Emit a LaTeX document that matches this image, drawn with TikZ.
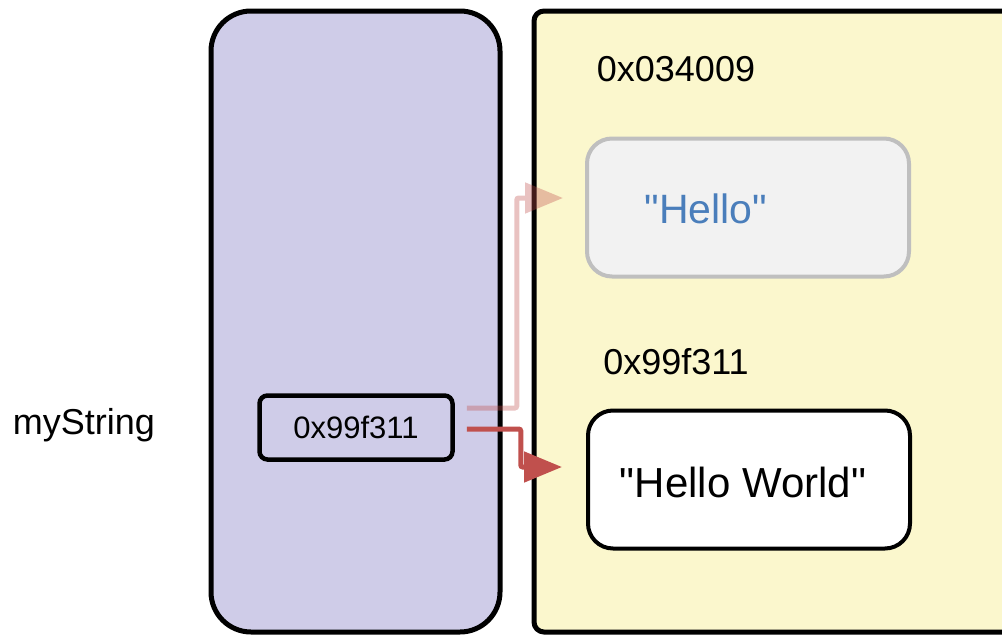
\documentclass[tikz,border=0pt]{standalone}
\usepackage{fontspec}
\setmainfont{Liberation Sans}[Ligatures=TeXOff]
\usetikzlibrary{arrows.meta}
\definecolor{stackfill}{RGB}{207,204,232}
\definecolor{heapfill}{RGB}{251,247,205}
\definecolor{oldfill}{RGB}{242,242,242}
\definecolor{oldline}{RGB}{191,191,191}
\definecolor{oldtext}{RGB}{74,126,187}
\definecolor{arrowred}{RGB}{192,80,77}
\begin{document}
\begin{tikzpicture}[x=1pt,y=-1pt,
  panel/.style={draw=black,line width=5pt},
  valbox/.style={draw,line width=4pt,rounded corners=25pt,minimum width=322pt,minimum height=138pt,inner sep=0pt},
  lbl/.style={font=\fontsize{36}{40}\selectfont,inner sep=0pt},
  ptr/.style={line width=5pt,arrowred,-{Triangle[length=38pt,width=30pt]}}
]
\useasboundingbox (0,0) rectangle (1002,635);
% panels
\draw[panel,fill=stackfill,rounded corners=40pt] (211,11) rectangle (500,632);
\draw[panel,fill=heapfill,rounded corners=10pt] (534,11) rectangle (1030,632);
% heap values
\node[valbox,draw=oldline,fill=oldfill] (hello) at (748,207.5) {};
\node[text=oldtext,font=\fontsize{41}{45}\selectfont,inner sep=0pt] (hellotxt) at (706,209) {"Hello"};
\node[valbox,fill=white] (world) at (749,479.5) {};
\node[font=\fontsize{42}{46}\selectfont,inner sep=0pt] (worldtxt) at (743,482) {"Hello World"};
\node[lbl] (addr1) at (676,69) {0x034009};
\node[lbl] (addr2) at (676,362) {0x99f311};
% stack
\node[lbl] (name) at (84,425) {myString};
\node[draw,line width=4.5pt,rounded corners=8pt,minimum width=193pt,minimum height=64pt,inner sep=0pt,font=\fontsize{31}{34}\selectfont] (ref) at (356,427.5) {0x99f311};
% connectors
\coordinate (s1) at ([xshift=12pt,yshift=19.5pt]ref.east);
\coordinate (s2) at ([xshift=12pt,yshift=-1.5pt]ref.east);
\begin{scope}[transparency group,opacity=0.35]
\draw[ptr,rounded corners=2pt] (s1) -- ++(50,0) |- ([xshift=-22pt,yshift=9.5pt]hello.west);
\end{scope}
\draw[ptr,rounded corners=2pt] (s2) -- ++(54,0) |- ([xshift=-24pt,yshift=12.5pt]world.west);
\end{tikzpicture}
\end{document}
